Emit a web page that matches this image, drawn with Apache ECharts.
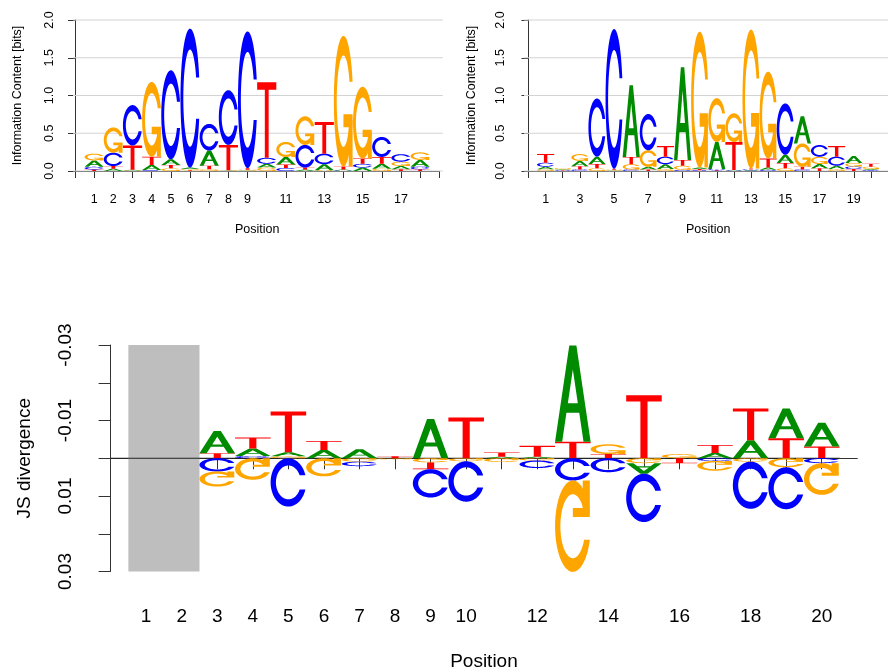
<!DOCTYPE html>
<html>
<head>
<meta charset="utf-8">
<script src="https://cdn.jsdelivr.net/npm/echarts@6/dist/echarts.min.js"></script>
<style>
  html, body { margin: 0; padding: 0; background: #ffffff; }
  #chart { width: 888px; height: 672px; }
</style>
</head>
<body>
<div id="chart"></div>
<script>
// Bases and their logo colours
const bases = ['A', 'C', 'G', 'T'];
const baseColors = ['#008B00', '#0000FF', '#FFA500', '#FF0000'];

// Motif 1: information content (bits) per base, positions 1..18
const m1A = [0.085, 0.03, 0.01, 0.066, 0.075, 0.02, 0.2, 0.006, 0.008, 0.05, 0.1, 0.02, 0.08, 0.012, 0.045, 0.066, 0.044, 0.09];
const m1C = [0.035, 0.177, 0.535, 0.013, 1.18, 1.84, 0.353, 0.724, 1.81, 0.08, 0.04, 0.3, 0.14, 0.008, 0.05, 0.265, 0.1, 0.035];
const m1G = [0.09, 0.335, 0.008, 0.99, 0.035, 0.015, 0.022, 0.005, 0.01, 0.045, 0.2, 0.38, 0.01, 1.73, 0.95, 0.03, 0.057, 0.1];
const m1T = [0.02, 0.035, 0.32, 0.11, 0.044, 0.01, 0.049, 0.335, 0.02, 1.0, 0.045, 0.025, 0.42, 0.04, 0.07, 0.09, 0.022, 0.022];

// Motif 2: information content (bits) per base, positions 1..20
const m2A = [0.035, 0.01, 0.07, 0.097, 0.008, 0.95, 0.035, 0.065, 1.23, 0.02, 0.36, 0.008, 0.01, 0.03, 0.11, 0.36, 0.057, 0.045, 0.095, 0.015];
const m2C = [0.053, 0.006, 0.02, 0.77, 1.85, 0.02, 0.48, 0.1, 0.015, 0.01, 0.015, 0.006, 0.011, 0.015, 0.68, 0.02, 0.155, 0.12, 0.035, 0.012];
const m2G = [0.022, 0.015, 0.09, 0.035, 0.01, 0.07, 0.22, 0.025, 0.055, 1.8, 0.58, 0.38, 1.84, 1.15, 0.035, 0.31, 0.097, 0.025, 0.045, 0.03];
const m2T = [0.115, 0.008, 0.044, 0.058, 0.012, 0.097, 0.02, 0.14, 0.075, 0.015, 0.01, 0.37, 0.012, 0.12, 0.07, 0.035, 0.035, 0.14, 0.025, 0.04];

// Difference logo: JS divergence contribution per base, positions 1..20
// (negative values sit above the baseline on the inverted axis)
const jsA = [0, 0, -0.0059, -0.002, -0.0011, -0.0022, -0.0024, 0, -0.0104, 0, -0.0004, -0.0004, -0.0255, 0, 0.0028, 0, -0.0014, -0.0048, -0.0079, -0.0063];
const jsC = [0, 0, 0.0035, -0.0006, 0.0128, 0, 0.0012, 0, 0.0075, 0.0107, 0, 0.002, 0.0059, 0.0037, 0.0128, 0, 0.0007, 0.0125, 0.0111, 0.0013];
const jsG = [0, 0, 0.004, 0.0057, -0.0005, 0.0048, 0.0009, 0.0003, 0.0011, 0.0008, 0.001, 0.0006, 0.0242, -0.0026, 0.0013, -0.0011, 0.0026, 0.0009, 0.0024, 0.0084];
const jsT = [0, 0, -0.0013, -0.0029, -0.0108, -0.0024, 0, -0.0005, 0.0018, -0.0108, -0.0011, -0.0029, -0.0044, -0.0011, -0.0167, 0.0013, -0.0021, -0.0084, -0.0053, -0.0031];

// Positions without an alignment partner (shaded)
const maskedPositions = [1, 2];

// Axis ticks and labels
const bitsTicks = [0, 0.5, 1, 1.5, 2];
const m1PosLabels = [1, 2, 3, 4, 5, 6, 7, 8, 9, 11, 13, 15, 17];
const m2PosLabels = [1, 3, 5, 7, 9, 11, 13, 15, 17, 19];
const jsPosTicks = [1, 2, 3, 4, 5, 6, 7, 8, 9, 10, 11, 12, 13, 14, 15, 16, 17, 18, 19, 20];
const jsPosLabels = [1, 2, 3, 4, 5, 6, 7, 8, 9, 10, 12, 14, 16, 18, 20];
const jsTickLabels = [-0.03, -0.01, 0.01, 0.03];
const jsRange = [-0.03, 0.03];
const baselineSpan = [0, 20.5];

const FONT = '"Liberation Sans", Arial, Helvetica, sans-serif';
const AXIS_COLOR = '#333333';

// ---- letter outlines in a unit box (y up) ----
const C_START = 0.3 + Math.PI / 2;
function ringC() {
  const n = 48;
  const a1 = [], a2 = [];
  for (let i = 0; i < n; i++) a1.push(C_START + (Math.PI - C_START) * i / (n - 1));
  for (let i = 0; i < n; i++) a2.push(Math.PI + 0.5 * Math.PI * i / (n - 1));
  const outer = a1.concat(a2).map(a => [0.5 + 0.5 * Math.sin(a), 0.5 + 0.5 * Math.cos(a)]);
  const yCut = 0.5 + 0.5 * Math.cos(C_START);
  const in1 = a1.map(a => [0.5 + 0.35 * Math.sin(a), 0.5 + 0.35 * Math.cos(a)]).filter(p => p[1] <= yCut);
  in1[0] = [in1[0][0], yCut];
  const in2 = a2.map(a => [0.5 + 0.35 * Math.sin(a), 0.5 + 0.35 * Math.cos(a)]);
  const inner = in1.concat(in2);
  const outerFull = outer.concat(outer.slice().reverse().map(p => [p[0], 1 - p[1]]));
  const innerFull = inner.concat(inner.slice().reverse().map(p => [p[0], 1 - p[1]]));
  return outerFull.concat(innerFull.reverse());
}
const r1 = 0.5 + 0.5 * Math.sin(C_START);
const GLYPHS = [
  // A
  [
    { pts: [[0, 0], [0.4, 1], [0.6, 1], [1, 0], [0.8, 0], [0.68, 0.3], [0.32, 0.3], [0.2, 0]] },
    { pts: [[0.36, 0.4], [0.5, 0.75], [0.64, 0.4]], hole: true }
  ],
  // C
  [{ pts: ringC() }],
  // G
  [
    { pts: ringC() },
    { pts: [[r1, 0.4], [0.5, 0.4], [0.5, 0.3], [r1 - 0.2, 0.3], [r1 - 0.2, 0], [r1, 0]] }
  ],
  // T
  [{ pts: [[0, 1], [1, 1], [1, 0.9], [0.6, 0.9], [0.6, 0], [0.4, 0], [0.4, 0.9], [0, 0.9]] }]
];

// ---- stacking ----
// Each item: [position, baseValue, tipValue, baseIndex]; smaller letters sit closer to the baseline.
function logoStacks(cols) {
  const out = [];
  for (let i = 0; i < cols[0].length; i++) {
    const items = cols.map((c, k) => ({ k, v: c[i] })).filter(o => o.v > 0).sort((a, b) => a.v - b.v);
    let cum = 0;
    items.forEach(o => { out.push([i + 1, cum, cum + o.v, o.k]); cum += o.v; });
  }
  return out;
}
function diffStacks(cols) {
  const out = [];
  for (let i = 0; i < cols[0].length; i++) {
    const items = cols.map((c, k) => ({ k, v: c[i] }));
    const neg = items.filter(o => o.v < 0).sort((a, b) => b.v - a.v);
    const pos = items.filter(o => o.v > 0).sort((a, b) => a.v - b.v);
    let cum = 0;
    neg.forEach(o => { out.push([i + 1, cum, cum + o.v, o.k]); cum += o.v; });
    cum = 0;
    pos.forEach(o => { out.push([i + 1, cum, cum + o.v, o.k]); cum += o.v; });
  }
  return out;
}

// Letter drawn in the box [pos-0.5, pos+0.5] x [base, tip]; glyph top points to the tip.
function renderLetter(params, api) {
  const x = api.value(0), b = api.value(1), t = api.value(2), k = api.value(3);
  const pb = api.coord([x - 0.5, b]);
  const pt = api.coord([x + 0.5, t]);
  const left = pb[0], w = pt[0] - pb[0], yb = pb[1], dy = pt[1] - pb[1];
  const children = GLYPHS[k].map(poly => ({
    type: 'polygon',
    shape: { points: poly.pts.map(p => [left + p[0] * w, yb + p[1] * dy]) },
    style: { fill: poly.hole ? '#ffffff' : baseColors[k], stroke: null }
  }));
  return { type: 'group', children };
}

function gridLineRenderer(extLeft, extRight) {
  return function (params, api) {
    const cs = params.coordSys;
    const y = api.coord([0, api.value(1)])[1];
    return {
      type: 'line',
      shape: { x1: cs.x - extLeft, y1: y, x2: cs.x + cs.width + extRight, y2: y },
      style: { stroke: '#d3d3d3', lineWidth: 1 }
    };
  };
}

function renderMask(params, api) {
  const a = api.coord([api.value(0) - 0.5, jsRange[0]]);
  const b = api.coord([api.value(1) + 0.5, jsRange[1]]);
  return {
    type: 'rect',
    shape: { x: a[0], y: Math.min(a[1], b[1]), width: b[0] - a[0], height: Math.abs(b[1] - a[1]) },
    style: { fill: '#BEBEBE' }
  };
}

function renderBaseline(params, api) {
  const a = api.coord([api.value(0), 0]);
  const b = api.coord([api.value(1), 0]);
  return {
    type: 'line',
    shape: { x1: a[0], y1: a[1], x2: b[0], y2: b[1] },
    style: { stroke: '#222222', lineWidth: 1 }
  };
}

const smallText = { fontFamily: FONT, fontSize: 12.5, color: '#000' };
const bigText = { fontFamily: FONT, fontSize: 19, color: '#000' };

function bitsYAxis(gridIndex, offset, nameGap) {
  return {
    gridIndex, type: 'value', min: 0, max: 2, interval: 0.5, offset,
    axisLine: { show: true, lineStyle: { color: AXIS_COLOR } },
    axisTick: { show: true, length: 7, lineStyle: { color: AXIS_COLOR } },
    axisLabel: Object.assign({ rotate: 90, margin: 17, formatter: v => v.toFixed(1) }, smallText),
    splitLine: { show: false },
    name: 'Information Content [bits]', nameLocation: 'middle', nameGap,
    nameTextStyle: smallText
  };
}
function posXAxis(gridIndex, max, labels) {
  return {
    gridIndex, type: 'value', min: 0, max, interval: 1, offset: 7,
    axisLine: { show: true, lineStyle: { color: AXIS_COLOR } },
    axisTick: { show: true, length: 7, lineStyle: { color: AXIS_COLOR } },
    axisLabel: Object.assign({ customValues: labels, margin: 15.5, formatter: v => String(v) }, smallText),
    splitLine: { show: false },
    name: 'Position', nameLocation: 'middle', nameGap: 45.5, nameTextStyle: smallText
  };
}

const option = {
  animation: false,
  backgroundColor: '#ffffff',
  grid: [
    { left: 75, top: 20, width: 364.3, height: 151 },
    { left: 528.5, top: 20, width: 365, height: 151 },
    { left: 110.6, top: 345, width: 746.7, height: 227.7 }
  ],
  xAxis: [
    posXAxis(0, 19, m1PosLabels),
    posXAxis(1, 21, m2PosLabels),
    {
      gridIndex: 2, type: 'value', min: 0, max: 21, interval: 1, offset: 9.5,
      axisLine: { show: true, lineStyle: { color: AXIS_COLOR } },
      axisTick: { show: true, length: 11, customValues: jsPosTicks, lineStyle: { color: AXIS_COLOR } },
      axisLabel: Object.assign({ customValues: jsPosLabels, margin: 26.5, formatter: v => String(v) }, bigText),
      splitLine: { show: false },
      name: 'Position', nameLocation: 'middle', nameGap: 71, nameTextStyle: bigText
    }
  ],
  yAxis: [
    bitsYAxis(0, 2, 48.5),
    bitsYAxis(1, 4.5, 45.5),
    {
      gridIndex: 2, type: 'value', min: jsRange[0], max: jsRange[1], interval: 0.01, inverse: true, offset: 10.6,
      axisLine: { show: true, lineStyle: { color: AXIS_COLOR } },
      axisTick: { show: true, length: 12, lineStyle: { color: AXIS_COLOR } },
      axisLabel: Object.assign({ rotate: 90, margin: 24.5, customValues: jsTickLabels, formatter: v => v.toFixed(2) }, bigText),
      splitLine: { show: false },
      name: 'JS divergence', nameLocation: 'middle', nameGap: 65.5, nameTextStyle: bigText
    }
  ],
  series: [
    {
      type: 'custom', xAxisIndex: 0, yAxisIndex: 0, z: 1, clip: false, silent: true,
      renderItem: gridLineRenderer(2, 3.5),
      data: bitsTicks.map(v => [0, v])
    },
    {
      type: 'custom', xAxisIndex: 1, yAxisIndex: 1, z: 1, clip: false, silent: true,
      renderItem: gridLineRenderer(4.5, 0),
      data: bitsTicks.map(v => [0, v])
    },
    {
      type: 'custom', xAxisIndex: 0, yAxisIndex: 0, z: 3, clip: false, silent: true,
      renderItem: renderLetter, encode: { x: 0, y: [1, 2] },
      data: logoStacks([m1A, m1C, m1G, m1T])
    },
    {
      type: 'custom', xAxisIndex: 1, yAxisIndex: 1, z: 3, clip: false, silent: true,
      renderItem: renderLetter, encode: { x: 0, y: [1, 2] },
      data: logoStacks([m2A, m2C, m2G, m2T])
    },
    {
      type: 'custom', xAxisIndex: 2, yAxisIndex: 2, z: 1, clip: false, silent: true,
      renderItem: renderMask,
      data: [[Math.min(...maskedPositions), Math.max(...maskedPositions)]]
    },
    {
      type: 'custom', xAxisIndex: 2, yAxisIndex: 2, z: 2, clip: false, silent: true,
      renderItem: renderBaseline,
      data: [baselineSpan]
    },
    {
      type: 'custom', xAxisIndex: 2, yAxisIndex: 2, z: 3, clip: false, silent: true,
      renderItem: renderLetter, encode: { x: 0, y: [1, 2] },
      data: diffStacks([jsA, jsC, jsG, jsT])
    }
  ]
};

const chart = echarts.init(document.getElementById('chart'), null, { renderer: 'canvas' });
chart.setOption(option);
</script>
</body>
</html>
